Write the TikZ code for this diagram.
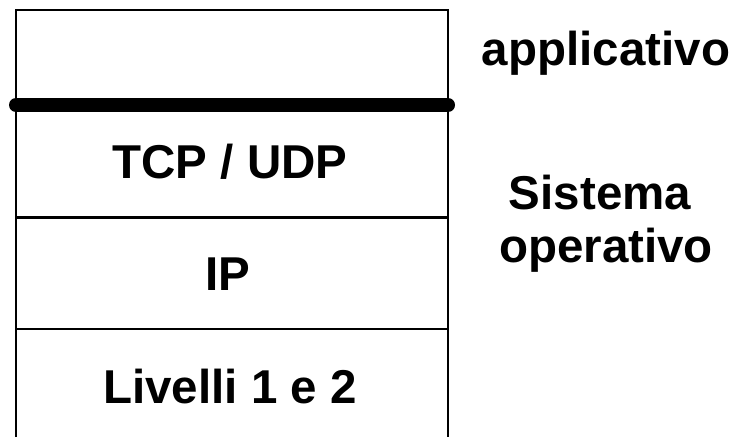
\documentclass[tikz,border=0pt]{standalone}
\usepackage{fontspec}
\setmainfont{Liberation Sans}
\begin{document}
\begin{tikzpicture}[x=1pt,y=-1pt,
  thin line/.style={line width=2.2pt,black},
  thick bar/.style={line width=14pt,black,line cap=round},
  label/.style={anchor=base,inner sep=0pt,font=\fontsize{47.5}{52}\selectfont\bfseries}]
\useasboundingbox (0,0) rectangle (736,437);
% box frame
\coordinate (tl) at (16,10);
\coordinate (tr) at (448,10);
\coordinate (bl) at (16,437);
\coordinate (br) at (448,437);
\draw[thin line] (bl) -- (tl) -- (tr) -- (br);
\coordinate (l2) at (16,217.5);
\coordinate (r2) at (448,217.5);
\coordinate (l3) at (16,329);
\coordinate (r3) at (448,329);
\draw[thin line] (l2) -- (r2);
\draw[thin line] (l3) -- (r3);
\coordinate (l1) at (16,105);
\coordinate (r1) at (448,105);
\draw[thick bar] (l1) -- (r1);
% labels
\node[label] (tcp) at (230,178) {TCP / UDP};
\node[label] (ip) at (228,290) {IP};
\node[label] (liv) at (230,403) {Livelli 1 e 2};
\node[label] (app) at (606,65) {applicativo};
\node[label] (sis) at (600,209) {Sistema};
\node[label] (op) at (606,262) {operativo};
\end{tikzpicture}
\end{document}
